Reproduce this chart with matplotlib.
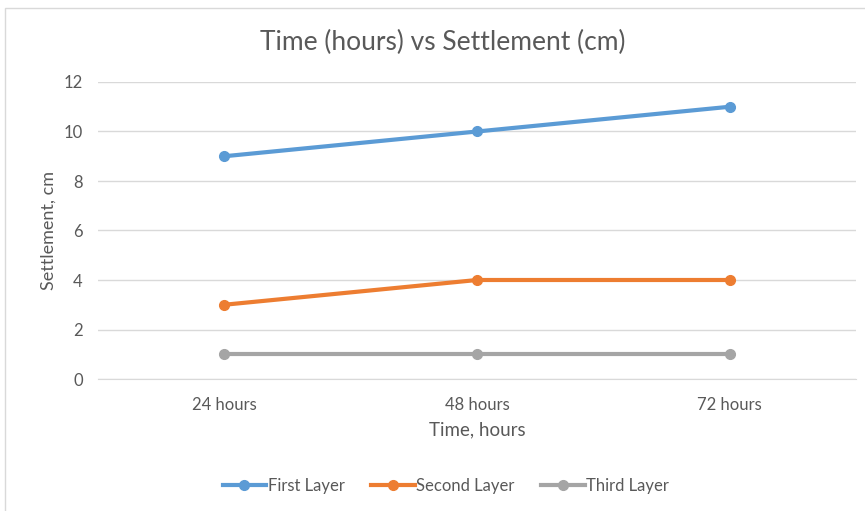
import matplotlib.pyplot as plt
from matplotlib.patches import Rectangle

categories = ['24 hours', '48 hours', '72 hours']
first_layer = [9, 10, 11]
second_layer = [3, 4, 4]
third_layer = [1, 1, 1]

plt.rcParams['font.family'] = ['Lato', 'DejaVu Sans']
text_gray = '#595959'

fig = plt.figure(figsize=(8.65, 5.11), dpi=100)
ax = fig.add_axes([98/865, 1 - 379/511, 758/865, 297/511])

x = range(len(categories))
ax.plot(x, first_layer, color='#5B9BD5', lw=3, marker='o', ms=7, label='First Layer')
ax.plot(x, second_layer, color='#ED7D31', lw=3, marker='o', ms=7, label='Second Layer')
ax.plot(x, third_layer, color='#A5A5A5', lw=3, marker='o', ms=7, label='Third Layer')

ax.set_xlim(-0.5, 2.5)
ax.set_ylim(0, 12)
ax.set_yticks(range(0, 13, 2))
ax.set_xticks(list(x))
ax.set_xticklabels(categories)
ax.grid(axis='y', color='#d9d9d9', lw=1)
ax.set_axisbelow(True)
for s in ['top', 'right', 'left']:
    ax.spines[s].set_visible(False)
ax.spines['bottom'].set_color('#d9d9d9')
ax.tick_params(length=0, colors=text_gray, labelsize=12, pad=13)
ax.tick_params(axis='y', pad=11)

ax.set_xlabel('Time, hours', color=text_gray, fontsize=13.5, labelpad=6)
ax.set_ylabel('Settlement, cm', color=text_gray, fontsize=13, labelpad=5)
fig.text(443/865, 1 - 42/511, 'Time (hours) vs Settlement (cm)', ha='center', va='center',
         color=text_gray, fontsize=19)

fig.legend(loc='center', bbox_to_anchor=(446/865, 1 - 486/511), ncol=3, frameon=False,
           fontsize=12, labelcolor=text_gray, handlelength=2.6, handletextpad=0.1,
           columnspacing=1.6)

fig.patches.append(Rectangle((5/865, -0.1), 1.1, 1 - 8/511 + 0.1, transform=fig.transFigure,
                             fill=False, edgecolor='#d9d9d9', lw=1))

plt.savefig('out.png', dpi=100)
